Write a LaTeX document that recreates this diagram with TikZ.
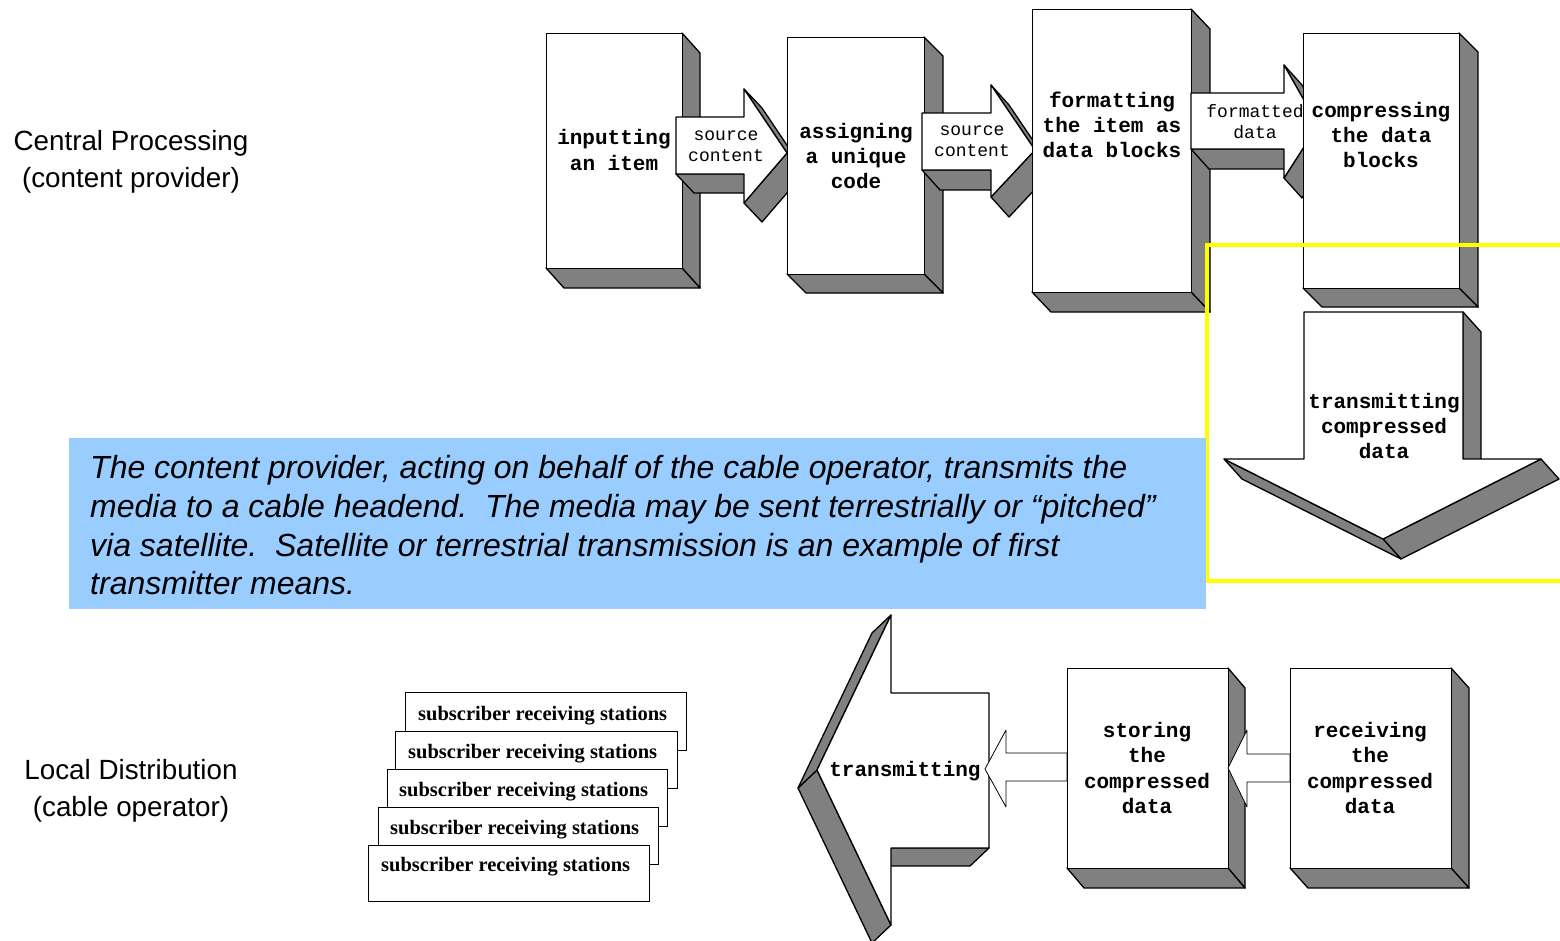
\documentclass[tikz,border=0pt]{standalone}
\usepackage{fontspec}
\setmainfont{Liberation Serif}
\newfontfamily\monofont{Liberation Mono}
\newfontfamily\arialfont{Liberation Sans}
\definecolor{sidegray}{HTML}{808080}
\definecolor{bluebox}{HTML}{99CCFF}
\definecolor{hiyellow}{HTML}{FFFF00}
\newcommand\sidequad[6]{\draw[side] (#1,#2) -- (#3,#4) -- ({#3+#5},{#4+#6}) -- ({#1+#5},{#2+#6}) -- cycle;}
\newcommand\blockbox[7]{%
  \sidequad{#4}{#3}{#4}{#5}{#6}{#7}%
  \sidequad{#2}{#5}{#4}{#5}{#6}{#7}%
  \node[face, anchor=north west, inner sep=0pt, minimum width={#4-#2}, minimum height={#5-#3}] (#1) at (#2,#3) {};}
\begin{document}
\begin{tikzpicture}[x=1pt,y=-1pt,
  side/.style={fill=sidegray,draw=black,line width=1.3pt,line join=round},
  face/.style={fill=white,draw=black,line width=1.3pt,line join=round},
  flat/.style={fill=white,draw=black,line width=0.8pt,line join=round},
  boxtext/.style={font=\monofont\bfseries\fontsize{21}{25.3}\selectfont, align=center, inner sep=0pt},
  arrowlabel/.style={font=\monofont\fontsize{18}{21}\selectfont, align=center, inner sep=0pt},
  sidelabel/.style={font=\arialfont\fontsize{27.8}{37}\selectfont, align=center, inner sep=0pt},
  stackbox/.style={fill=white,draw=black,line width=1.3pt,anchor=north west,inner sep=0pt},
  stacktext/.style={font=\bfseries\fontsize{20.5}{24}\selectfont, anchor=west, inner sep=0pt}]
\useasboundingbox[fill=white] (0,0) rectangle (1560,940);

% ---- top row ----
\blockbox{b1}{546}{33}{682}{268}{18}{20}
\node[boxtext] (t1) at (614,150) {inputting\\an item};

\sidequad{744}{174}{676}{174}{18}{19}
\sidequad{787}{153}{744}{203}{18}{19}
\sidequad{744}{89}{787}{153}{18}{19}
\draw[face] (676,117) -- (744,117) -- (744,89) -- (787,153) -- (744,203) -- (744,174) -- (676,174) -- cycle;
\node[arrowlabel] (a1) at (726,146) {source\\content};

\blockbox{b2}{787}{37}{924}{274}{19}{19}
\node[boxtext] (t2) at (856,156) {assigning\\a unique\\code};

\sidequad{991}{170}{922}{170}{18}{20}
\sidequad{1035}{150}{991}{197}{18}{20}
\sidequad{991}{85}{1035}{150}{18}{20}
\draw[face] (922,113) -- (991,113) -- (991,85) -- (1035,150) -- (991,197) -- (991,170) -- (922,170) -- cycle;
\node[arrowlabel] (a2) at (972,141) {source\\content};

\blockbox{b3}{1032}{9}{1191}{292}{19}{20}
\node[boxtext] (t3) at (1112,125) {formatting\\the item as\\data blocks};

\sidequad{1284}{149}{1191}{149}{18}{20}
\sidequad{1318}{125}{1284}{178}{18}{20}
\sidequad{1284}{65}{1318}{125}{18}{20}
\draw[face] (1191,93) -- (1284,93) -- (1284,65) -- (1318,125) -- (1284,178) -- (1284,149) -- (1191,149) -- cycle;
\node[arrowlabel] (a3) at (1255,122) {formatted\\data};

\blockbox{b4}{1303}{33}{1459}{288}{19}{19}
\node[boxtext] (t4) at (1381,135) {compressing\\the data\\blocks};

% down arrow
\sidequad{1463}{312}{1463}{459}{18}{20}
\sidequad{1541}{459}{1383}{539}{18}{20}
\sidequad{1383}{539}{1224}{459}{18}{20}
\draw[face] (1304,312) -- (1463,312) -- (1463,459) -- (1541,459) -- (1383,539) -- (1224,459) -- (1304,459) -- cycle;
\node[boxtext] (t5) at (1384,426) {transmitting\\compressed\\data};

% highlight
\draw[hiyellow, line width=4pt] (1570,245) -- (1206.5,245) -- (1206.5,581) -- (1570,581);

% description
\node[fill=bluebox, inner sep=0pt, anchor=north west, minimum width=1137, minimum height=171] (desc) at (69,438) {};
\node[font=\arialfont\itshape\fontsize{32}{38.7}\selectfont, align=left, anchor=north west, inner sep=0pt] (desctext) at (90,455.5)
 {The content provider, acting on behalf of the cable operator, transmits the\\
  media to a cable headend.\ \ The media may be sent terrestrially or “pitched”\\
  via satellite.\ \ Satellite or terrestrial transmission is an example of first\\
  transmitter means.};

% side labels
\node[sidelabel] (central) at (131,161.5) {Central Processing\\(content provider)};
\node[sidelabel] (local) at (131,790.5) {Local Distribution\\(cable operator)};

% ---- bottom row ----
\node[stackbox, minimum width=281, minimum height=58] (s1) at (405,692) {};
\node[stacktext] (st1) at (418,716) {subscriber receiving stations};
\node[stackbox, minimum width=282, minimum height=57] (s2) at (395,731) {};
\node[stacktext] (st2) at (408,754) {subscriber receiving stations};
\node[stackbox, minimum width=280, minimum height=57] (s3) at (387,769) {};
\node[stacktext] (st3) at (399,792) {subscriber receiving stations};
\node[stackbox, minimum width=280, minimum height=57] (s4) at (378,807) {};
\node[stacktext] (st4) at (390,830) {subscriber receiving stations};
\node[stackbox, minimum width=281, minimum height=56] (s5) at (368,845) {};
\node[stacktext] (st5) at (381,867) {subscriber receiving stations};

% big left arrow
\sidequad{891}{848}{989}{848}{-19}{18}
\sidequad{817}{770}{891}{925}{-19}{18}
\sidequad{891}{615}{817}{770}{-19}{18}
\draw[face] (989,693) -- (891,693) -- (891,615) -- (817,770) -- (891,925) -- (891,848) -- (989,848) -- cycle;
\node[boxtext] (t6) at (905,771) {transmitting};

% small arrow storing -> transmitting
\draw[flat] (1067,753) -- (1006,753) -- (1006,730) -- (985,769) -- (1006,807) -- (1006,781) -- (1067,781) -- cycle;

\blockbox{b5}{1067}{668}{1228}{868}{17}{20}
\node[boxtext] (t7) at (1147,768) {storing\\the\\compressed\\data};

% small arrow receiving -> storing
\draw[flat] (1290,754) -- (1247,754) -- (1247,730) -- (1228,768) -- (1247,807) -- (1247,782) -- (1290,782) -- cycle;

\blockbox{b6}{1290}{668}{1451}{868}{18}{20}
\node[boxtext] (t8) at (1370,768) {receiving\\the\\compressed\\data};
\end{tikzpicture}
\end{document}
